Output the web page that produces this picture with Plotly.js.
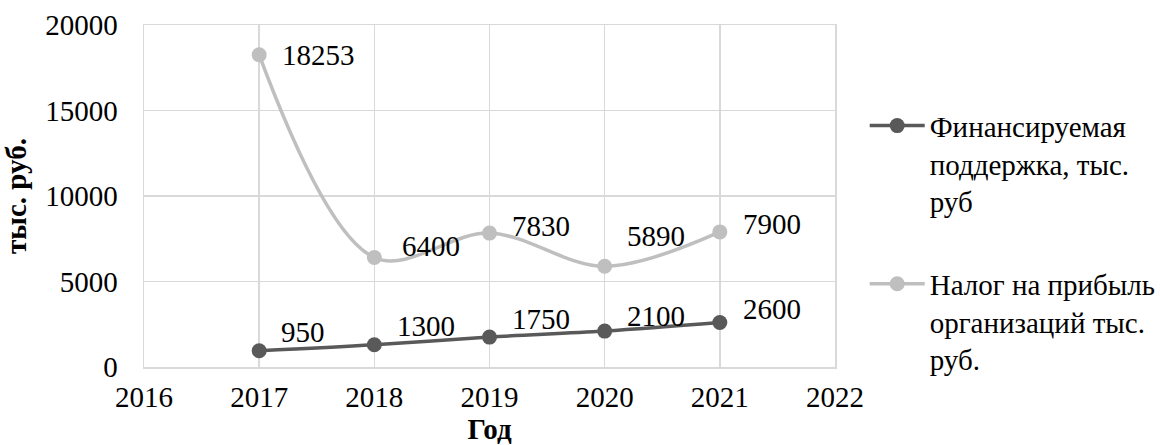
<!DOCTYPE html>
<html>
<head>
<meta charset="utf-8">
<script src="https://cdn.plot.ly/plotly-3.0.1.min.js"></script>
<style>html,body{margin:0;padding:0;background:#fff;}#chart{width:1160px;height:445px;}</style>
</head>
<body>
<div id="chart"></div>
<script>
const years = [2017, 2018, 2019, 2020, 2021];
const financed = [950, 1300, 1750, 2100, 2600];
const tax = [18253, 6400, 7830, 5890, 7900];
const seriesNames = ["Финансируемая<br>поддержка, тыс.<br>руб", "Налог на прибыль<br>организаций тыс.<br>руб."];
const xTitle = "Год";
const yTitle = "тыс. руб.";

// label offsets in pixels (style only)
const finShift = [[44, 19], [52, 19], [51, 18.5], [51, 15.5], [52, 14]];
const taxShift = [[59, 0], [57, 12], [51, 7], [51, 30], [52, 8]];

const FONT = "Liberation Serif";
const darkC = "#595959", lightC = "#bfbfbf", gridC = "#d9d9d9";

const traces = [
  {x: years, y: financed, name: seriesNames[0], mode: "lines+markers", legendgroup: "a",
   line: {color: darkC, width: 3.5, shape: "spline"}, marker: {color: darkC, size: 15}},
  {x: years, y: tax, name: seriesNames[1], mode: "lines+markers", legendgroup: "b",
   line: {color: lightC, width: 3.5, shape: "spline"}, marker: {color: lightC, size: 15}}
];

const annotations = [];
years.forEach((yr, i) => {
  annotations.push({x: yr, y: financed[i], text: String(financed[i]), showarrow: false,
    xshift: finShift[i][0], yshift: finShift[i][1], font: {family: FONT, size: 29, color: "#000"}});
  annotations.push({x: yr, y: tax[i], text: String(tax[i]), showarrow: false,
    xshift: taxShift[i][0], yshift: taxShift[i][1], font: {family: FONT, size: 29, color: "#000"}});
});

const layout = {
  width: 1160, height: 445,
  margin: {l: 144, r: 325, t: 25, b: 77.5, autoexpand: false},
  paper_bgcolor: "#fff", plot_bgcolor: "#fff",
  font: {family: FONT, size: 29, color: "#000"},
  showlegend: true,
  legend: {x: 1.043, xanchor: "left", y: 0.78, yanchor: "top", valign: "top", itemwidth: 55,
    font: {family: FONT, size: 29, color: "#000"}, tracegroupgap: 42, traceorder: "grouped",
    bgcolor: "rgba(0,0,0,0)"},
  xaxis: {range: [2016, 2022], dtick: 1, tick0: 2016, showgrid: true, gridcolor: gridC, gridwidth: 1.5,
    zeroline: false, showline: true, linecolor: gridC, linewidth: 1.5, mirror: true,
    ticks: "", ticklabelstandoff: 4, tickformat: "d", tickfont: {family: FONT, size: 29, color: "#000"},
    title: {text: "<b>" + xTitle + "</b>", font: {family: FONT, size: 29, color: "#000"}, standoff: 7}},
  yaxis: {range: [0, 20000], dtick: 5000, showgrid: true, gridcolor: gridC, gridwidth: 1.5,
    zeroline: false, showline: true, linecolor: gridC, linewidth: 1.5, mirror: true,
    ticks: "", ticklabelstandoff: 19, tickformat: "d", tickfont: {family: FONT, size: 29, color: "#000"},
    title: {text: "<b>" + yTitle + "</b>", font: {family: FONT, size: 29, color: "#000"}, standoff: 12}},
  annotations: annotations
};

Plotly.newPlot("chart", traces, layout, {displayModeBar: false, staticPlot: true});
</script>
</body>
</html>
